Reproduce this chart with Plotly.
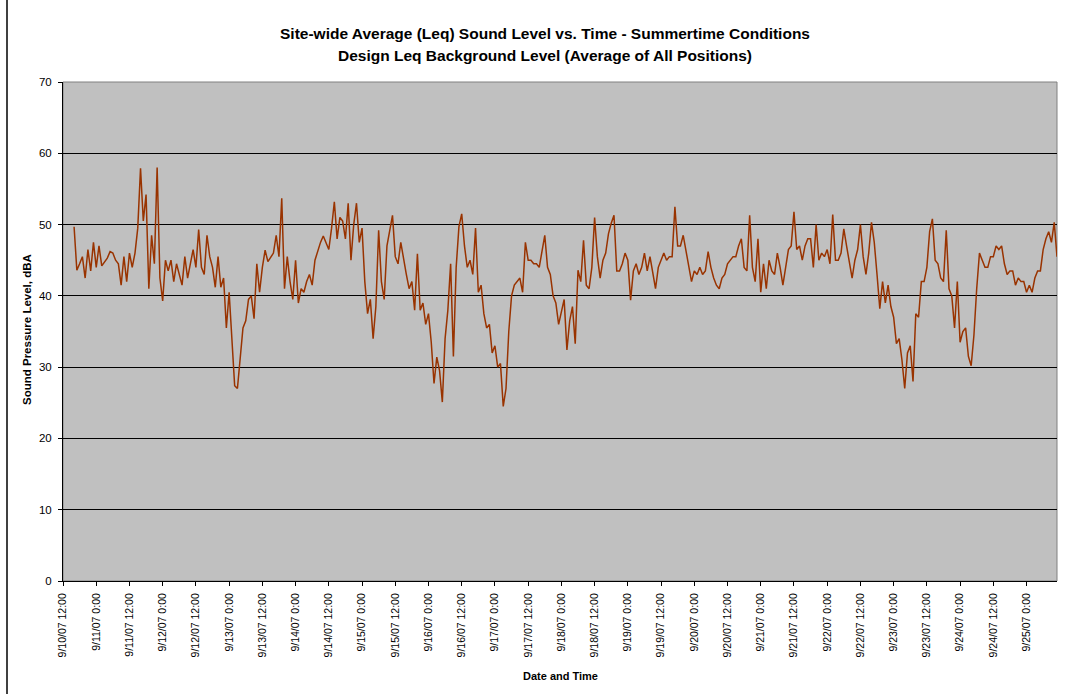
import pandas as pd
import plotly.graph_objects as go

# Hourly site-wide average Leq (dBA)
sep10 = [49.7, 43.6, 44.5, 45.5, 42.5, 46.5, 43.5, 47.5]
sep11 = [44.0, 47.0, 44.2, 44.8, 45.3, 46.2, 46.0, 45.0, 44.5, 41.5, 45.5, 42.0,
         46.0, 44.0, 46.0, 49.5, 57.9, 50.5, 54.2, 41.0, 48.5, 44.5, 58.0, 42.5]
sep12 = [39.3, 45.0, 43.5, 45.0, 42.0, 44.5, 43.0, 41.5, 45.5, 42.5, 44.5, 46.5,
         44.0, 49.3, 44.0, 43.0, 48.5, 45.5, 44.0, 41.2, 45.5, 41.2, 42.5, 35.5]
sep13 = [40.5, 33.0, 27.4, 27.0, 31.5, 35.5, 36.5, 39.5, 40.0, 36.8, 44.5, 40.5,
         44.0, 46.4, 44.8, 45.5, 46.0, 48.5, 45.5, 53.7, 41.0, 45.5, 42.0, 39.5]
sep14 = [45.0, 39.0, 41.0, 40.5, 42.0, 43.0, 41.5, 45.0, 46.4, 47.5, 48.4, 47.5,
         46.5, 49.5, 53.2, 48.0, 51.0, 50.5, 48.0, 53.0, 45.0, 50.0, 53.0, 47.5]
sep15 = [49.5, 42.0, 37.5, 39.5, 34.0, 38.5, 49.2, 42.0, 39.5, 47.0, 49.0, 51.3,
         45.5, 44.5, 47.5, 45.0, 43.0, 41.0, 42.0, 38.0, 45.9, 38.0, 39.0, 36.0]
sep16 = [37.5, 33.5, 27.7, 31.4, 29.5, 25.1, 34.0, 38.0, 44.5, 31.5, 44.0, 49.7,
         51.5, 47.0, 44.0, 45.0, 43.0, 49.5, 40.5, 41.5, 37.5, 35.5, 36.0, 32.0]
sep17 = [33.0, 30.0, 30.5, 24.5, 27.0, 35.0, 40.0, 41.5, 42.0, 42.5, 40.5, 47.5,
         45.0, 45.0, 44.5, 44.5, 44.0, 46.0, 48.5, 44.0, 43.0, 40.0, 39.0, 36.0]
sep18 = [38.0, 39.5, 32.4, 36.5, 38.5, 33.3, 43.6, 42.0, 47.8, 41.5, 41.0, 44.0,
         51.0, 45.5, 42.5, 45.0, 46.0, 48.7, 50.2, 51.3, 43.5, 43.5, 44.5, 46.0]
sep19 = [45.0, 39.4, 43.5, 44.5, 43.0, 44.0, 46.0, 43.5, 45.5, 43.5, 41.0, 44.0,
         45.0, 46.0, 45.0, 45.5, 45.5, 52.5, 47.0, 47.0, 48.5, 46.5, 44.0, 42.0]
sep20 = [43.5, 43.0, 44.0, 43.0, 43.5, 46.2, 44.0, 42.5, 41.5, 41.0, 42.5, 43.0,
         44.5, 45.0, 45.5, 45.5, 47.0, 48.0, 44.0, 43.5, 51.3, 44.0, 42.0, 48.0]
sep21 = [40.5, 44.5, 41.0, 45.0, 43.5, 43.0, 46.0, 44.0, 41.5, 44.0, 46.5, 47.0,
         51.8, 46.5, 47.0, 45.0, 47.0, 48.0, 48.0, 44.0, 50.0, 45.0, 46.0, 45.5]
sep22 = [46.5, 44.5, 51.4, 45.0, 45.0, 46.0, 49.4, 47.0, 44.5, 42.5, 45.0, 46.5,
         50.0, 45.5, 43.0, 46.0, 50.3, 47.5, 43.0, 38.2, 42.0, 39.0, 41.5, 38.5]
sep23 = [37.0, 33.3, 34.0, 31.0, 27.0, 32.0, 33.0, 28.0, 37.5, 37.0, 42.0, 42.0,
         44.0, 49.0, 50.8, 45.0, 44.5, 42.5, 42.0, 49.2, 41.0, 40.0, 35.5, 42.0]
sep24 = [33.5, 35.0, 35.5, 31.5, 30.2, 34.5, 41.0, 46.0, 45.0, 44.0, 44.0, 45.5,
         45.5, 47.0, 46.5, 47.0, 44.5, 43.0, 43.5, 43.5, 41.5, 42.5, 42.0, 42.0]
sep25 = [40.5, 41.5, 40.5, 42.5, 43.5, 43.5, 46.5, 48.0, 49.0, 47.5, 50.3, 45.5]

first_reading = "2007-09-10 16:00"
axis_start = "2007-09-10 12:00"
axis_end = "2007-09-25 11:00"
last_tick = "2007-09-25 00:00"

title_lines = ["Site-wide Average (Leq) Sound Level vs. Time - Summertime Conditions",
               "Design Leq Background Level (Average of All Positions)"]
y_title = "Sound Pressure Level, dBA"
x_title = "Date and Time"

levels = (sep10 + sep11 + sep12 + sep13 + sep14 + sep15 + sep16 + sep17 + sep18
          + sep19 + sep20 + sep21 + sep22 + sep23 + sep24 + sep25)
times = pd.date_range(first_reading, periods=len(levels), freq="h")

tick_times = pd.date_range(axis_start, last_tick, freq="12h")
tick_text = [f"{t.month}/{t.day}/{t:%y} {t.hour}:00" for t in tick_times]

W, H = 1073, 694
L, R, T, B = 63, 1057, 82, 581
FONT = "Liberation Sans, Arial, sans-serif"


def fx(px):
    return (px - L) / (R - L)


def fy(py):
    return (B - py) / (B - T)


fig = go.Figure()
fig.add_trace(go.Scatter(x=times, y=levels, mode="lines",
                         line=dict(color="#993300", width=1.5),
                         hoverinfo="x+y", showlegend=False))

fig.update_layout(
    width=W, height=H,
    margin=dict(l=L, r=W - R, t=T, b=H - B, pad=0),
    paper_bgcolor="white", plot_bgcolor="#C0C0C0",
    font=dict(family=FONT, color="black"),
    showlegend=False,
)

fig.update_xaxes(
    type="date", range=[axis_start, axis_end],
    tickmode="array", tickvals=tick_times, ticktext=tick_text,
    tickangle=-90, tickfont=dict(size=10.5, family=FONT, color="black"),
    ticks="outside", ticklen=4, tickcolor="black",
    showgrid=False, showline=True, linecolor="black", linewidth=1,
    zeroline=False, ticklabelstandoff=3,
)
fig.update_yaxes(
    range=[0, 70], dtick=10, tick0=0,
    tickfont=dict(size=11.5, family=FONT, color="black"),
    ticks="outside", ticklen=4, tickcolor="black",
    showgrid=True, gridcolor="black", gridwidth=1,
    showline=True, linecolor="black", linewidth=1,
    zeroline=False, ticklabelstandoff=4,
)

# plot-area frame (top/right grey)
fig.add_shape(type="rect", xref="paper", yref="paper", x0=0, x1=1, y0=0, y1=1,
              line=dict(color="#808080", width=1), layer="below")
# chart-area border line on the left
fig.add_shape(type="line", xref="paper", yref="paper",
              x0=fx(7), x1=fx(7), y0=fy(0), y1=fy(H),
              line=dict(color="black", width=1.5))

ann = [
    dict(text=f"<b>{title_lines[0]}</b>", x=fx(545), y=fy(33), size=15.5),
    dict(text=f"<b>{title_lines[1]}</b>", x=fx(545), y=fy(55), size=15.5),
    dict(text=f"<b>{x_title}</b>", x=fx(560), y=fy(676), size=11),
]
for a in ann:
    fig.add_annotation(text=a["text"], x=a["x"], y=a["y"], xref="paper", yref="paper",
                       xanchor="center", yanchor="middle", showarrow=False,
                       font=dict(size=a["size"], family=FONT, color="black"))
fig.add_annotation(text=f"<b>{y_title}</b>", x=fx(27), y=fy(330), xref="paper", yref="paper",
                   xanchor="center", yanchor="middle", showarrow=False, textangle=-90,
                   font=dict(size=11.5, family=FONT, color="black"))

fig.write_html("out.html")
